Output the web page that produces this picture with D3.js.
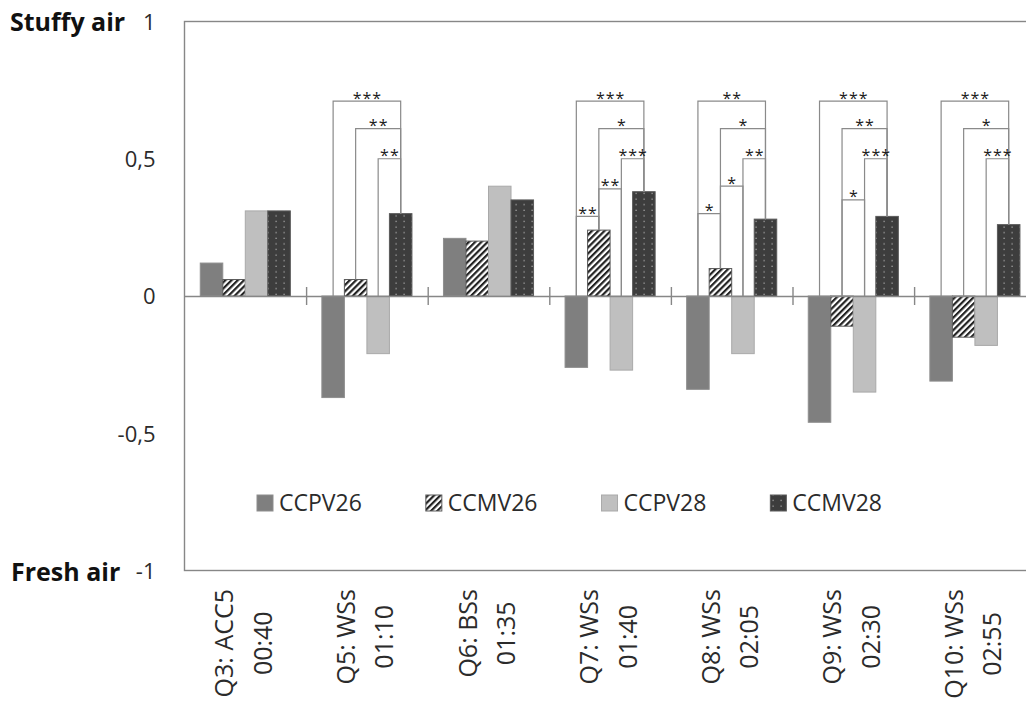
<!DOCTYPE html>
<html>
<head>
<meta charset="utf-8">
<script src="https://cdn.jsdelivr.net/npm/d3@7"></script>
<style>
  body { margin: 0; background: #fff; }
  svg { display: block; }
  text { font-family: "Open Sans", sans-serif; }
</style>
</head>
<body>
<svg id="chart" width="1026" height="703"></svg>
<script>
// ---- data ----
const questions = ["Q3: ACC5", "Q5: WSs", "Q6: BSs", "Q7: WSs", "Q8: WSs", "Q9: WSs", "Q10: WSs"];
const times     = ["00:40", "01:10", "01:35", "01:40", "02:05", "02:30", "02:55"];
const seriesNames = ["CCPV26", "CCMV26", "CCPV28", "CCMV28"];

const ccpv26 = [0.12, -0.37, 0.21, -0.26, -0.34, -0.46, -0.31];
const ccmv26 = [0.06,  0.06, 0.20,  0.24,  0.10, -0.11, -0.15];
const ccpv28 = [0.31, -0.21, 0.40, -0.27, -0.21, -0.35, -0.18];
const ccmv28 = [0.31,  0.30, 0.35,  0.38,  0.28,  0.29,  0.26];

const yTickValues = [1, 0.5, 0, -0.5, -1];
const topAxisTitle = "Stuffy air";
const bottomAxisTitle = "Fresh air";

// significance brackets: [question index, from series, to series, level, stars]
const significance = [
  [1, 0, 3, 0.71, "***"], [1, 1, 3, 0.61, "**"], [1, 2, 3, 0.50, "**"],
  [3, 0, 3, 0.71, "***"], [3, 1, 3, 0.61, "*"], [3, 2, 3, 0.50, "***"],
  [3, 1, 2, 0.39, "**"], [3, 0, 1, 0.29, "**"],
  [4, 0, 3, 0.71, "**"], [4, 1, 3, 0.61, "*"], [4, 2, 3, 0.50, "**"],
  [4, 1, 2, 0.40, "*"], [4, 0, 1, 0.30, "*"],
  [5, 0, 3, 0.71, "***"], [5, 1, 3, 0.61, "**"], [5, 2, 3, 0.50, "***"],
  [5, 1, 2, 0.35, "*"],
  [6, 0, 3, 0.71, "***"], [6, 1, 3, 0.61, "*"], [6, 2, 3, 0.50, "***"]
];

const seriesValues = [ccpv26, ccmv26, ccpv28, ccmv28];

// ---- layout ----
const plot = { left: 184.5, top: 21.5, right: 1035.7, bottom: 570.5 };
const frameColor = "#878787";

const svg = d3.select("#chart");

// fill styles per series
const defs = svg.append("defs");
const hatch = defs.append("pattern")
  .attr("id", "hatch").attr("patternUnits", "userSpaceOnUse")
  .attr("width", 4.4).attr("height", 4.4)
  .attr("patternTransform", "rotate(45)");
hatch.append("rect").attr("width", 4.4).attr("height", 4.4).attr("fill", "#fff");
hatch.append("rect").attr("x", 0).attr("y", 0).attr("width", 2.2).attr("height", 4.4).attr("fill", "#222");

const dots = defs.append("pattern")
  .attr("id", "dots").attr("patternUnits", "userSpaceOnUse")
  .attr("width", 8).attr("height", 5.6);
dots.append("rect").attr("width", 8).attr("height", 5.6).attr("fill", "#3d3d3d");
dots.append("rect").attr("x", 3.5).attr("y", 2.5).attr("width", 1.2).attr("height", 1.2).attr("fill", "#b0b0b0");

const seriesFill   = ["#7f7f7f", "url(#hatch)", "#bfbfbf", "url(#dots)"];
const seriesStroke = ["#8e8e8e", "#5a5a5a", "#a9a9a9", "#5a5a5a"];

// ---- scales ----
const x = d3.scaleBand().domain(d3.range(questions.length))
  .range([plot.left, plot.right]).paddingInner(0).paddingOuter(0);
const x1 = d3.scaleBand().domain(d3.range(seriesNames.length))
  .range([0, x.bandwidth()]).paddingInner(0).paddingOuter(0.7);
const y = d3.scaleLinear().domain([-1, 1]).range([plot.bottom, plot.top]);
const y0 = y(0);

// plot frame
svg.append("rect")
  .attr("x", plot.left).attr("y", plot.top)
  .attr("width", plot.right - plot.left).attr("height", plot.bottom - plot.top)
  .attr("fill", "none").attr("stroke", frameColor).attr("stroke-width", 1.4);

// y axis labels
const fmt = d3.formatLocale({ decimal: ",", thousands: ".", grouping: [3], currency: ["", ""], minus: "-" }).format("~g");
const yAxis = svg.append("g")
  .attr("transform", `translate(${plot.left},0)`)
  .call(d3.axisLeft(y).tickValues(yTickValues).tickSize(0).tickPadding(29).tickFormat(fmt));
yAxis.select(".domain").remove();
yAxis.selectAll("text")
  .attr("font-family", "Open Sans").attr("font-size", 22).attr("fill", "#2b2b2b")
  .attr("dy", "0.36em");

// axis end titles
svg.append("text").attr("x", 10).attr("y", 30.5)
  .attr("font-size", 25).attr("font-weight", 700).attr("fill", "#111")
  .text(topAxisTitle);
svg.append("text").attr("x", 11).attr("y", 581)
  .attr("font-size", 25).attr("font-weight", 700).attr("fill", "#111")
  .text(bottomAxisTitle);

// bars
const barData = [];
questions.forEach((q, i) => {
  seriesValues.forEach((vals, s) => barData.push({ i, s, v: vals[i] }));
});
svg.append("g").selectAll("rect").data(barData).join("rect")
  .attr("x", d => x(d.i) + x1(d.s))
  .attr("y", d => y(Math.max(d.v, 0)))
  .attr("width", x1.bandwidth())
  .attr("height", d => Math.abs(y(d.v) - y0))
  .attr("fill", d => seriesFill[d.s])
  .attr("stroke", d => seriesStroke[d.s])
  .attr("stroke-width", 1);

// zero line with crossing ticks between question groups
const boundary = d3.scaleLinear().domain([0, questions.length]).range([plot.left, plot.right]);
const zeroAxis = svg.append("g")
  .attr("transform", `translate(0,${y0})`)
  .call(d3.axisBottom(boundary).tickValues(d3.range(1, questions.length + 1))
    .tickSizeInner(9).tickSizeOuter(0).tickFormat(""));
zeroAxis.select(".domain").attr("stroke", frameColor).attr("stroke-width", 1.6);
zeroAxis.selectAll(".tick line").attr("y1", -9).attr("y2", 9)
  .attr("stroke", frameColor).attr("stroke-width", 1.4);

// significance brackets
const centerOf = (i, s) => x(i) + x1(s) + x1.bandwidth() / 2;
const legTop = (i, s) => y(Math.max(seriesValues[s][i], 0));
const starSpacing = 1;
const br = svg.append("g");
significance.forEach(([i, a, b, level, stars]) => {
  const xa = centerOf(i, a), xb = centerOf(i, b), yl = y(level);
  br.append("path")
    .attr("d", `M${xa},${legTop(i, a)}V${yl}H${xb}V${legTop(i, b)}`)
    .attr("fill", "none").attr("stroke", "#8a8a8a").attr("stroke-width", 1.2);
  br.append("text")
    .attr("x", (xa + xb) / 2 + starSpacing / 2).attr("y", yl + 2.5)
    .attr("text-anchor", "middle")
    .attr("font-size", 16).attr("letter-spacing", starSpacing).attr("fill", "#1a1a1a")
    .text(stars);
});

// category labels, rotated, two centred lines
questions.forEach((q, i) => {
  const cx = x(i) + x.bandwidth() / 2;
  const g = svg.append("g").attr("transform", `translate(${cx},589) rotate(-90)`);
  const t1 = g.append("text").attr("font-size", 25).attr("fill", "#2b2b2b")
    .attr("text-anchor", "middle").attr("y", -12).text(q);
  const t2 = g.append("text").attr("font-size", 25).attr("fill", "#2b2b2b")
    .attr("text-anchor", "middle").attr("y", 26.5).text(times[i]);
  const len = Math.max(t1.node().getComputedTextLength(), t2.node().getComputedTextLength());
  t1.attr("x", -len / 2);
  t2.attr("x", -len / 2);
});

// legend
const legend = svg.append("g").attr("transform", "translate(257,503)");
let lx = 0;
seriesNames.forEach((name, s) => {
  legend.append("rect")
    .attr("x", lx).attr("y", -8).attr("width", 16).attr("height", 16)
    .attr("fill", seriesFill[s]).attr("stroke", seriesStroke[s]).attr("stroke-width", 1);
  const t = legend.append("text")
    .attr("x", lx + 22).attr("y", 0).attr("dy", "0.36em")
    .attr("font-size", 23).attr("fill", "#2b2b2b").text(name);
  lx += 22 + t.node().getComputedTextLength() + 64;
});
</script>
</body>
</html>
